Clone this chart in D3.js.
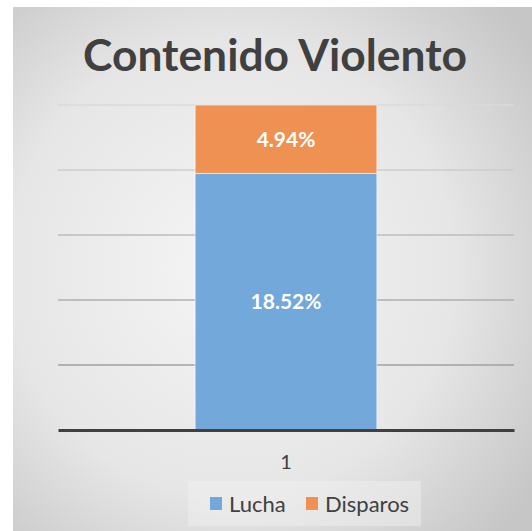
<!DOCTYPE html>
<html>
<head>
<meta charset="utf-8">
<script src="https://cdn.jsdelivr.net/npm/d3@7"></script>
<style>
  body { margin: 0; background: #fff; }
  text { font-family: Lato, "Open Sans", sans-serif; }
</style>
</head>
<body>
<div id="chart"></div>
<script>
// data
const categories = ["1"];
const seriesNames = ["Lucha", "Disparos"];
const lucha = [18.52];
const disparos = [4.94];
const gridTicks = [0, 0.2, 0.4, 0.6, 0.8, 1];

const W = 532, H = 531;
const margin = { top: 105, right: 18, bottom: 101, left: 58 };
const colors = { Lucha: "#72a8da", Disparos: "#ee9152" };

const svg = d3.select("#chart").append("svg")
    .attr("width", W)
    .attr("height", H);

// background panel with radial gradient
const defs = svg.append("defs");
const grad = defs.append("radialGradient")
    .attr("id", "bg")
    .attr("cx", "42%").attr("cy", "50%").attr("r", "72%");
grad.append("stop").attr("offset", "0%").attr("stop-color", "#f5f5f5");
grad.append("stop").attr("offset", "60%").attr("stop-color", "#e6e6e6");
grad.append("stop").attr("offset", "100%").attr("stop-color", "#c6c6c6");

svg.append("rect")
    .attr("x", 13).attr("y", 7)
    .attr("width", W - 13).attr("height", H - 7)
    .attr("fill", "url(#bg)");

// stacked data (100% stacked)
const rows = categories.map((c, i) => ({ cat: c, Lucha: lucha[i], Disparos: disparos[i] }));
const stack = d3.stack().keys(seriesNames).offset(d3.stackOffsetExpand);
const stacked = stack(rows);

const x = d3.scaleBand()
    .domain(categories)
    .range([margin.left, W - margin.right])
    .paddingInner(0.43)
    .paddingOuter(0.43);

const y = d3.scaleLinear()
    .domain([0, 1])
    .range([H - margin.bottom, margin.top]);

// gridlines
const gridColor = d3.scaleLinear().domain([1, 0.2]).range(["#dadada", "#a0a0a0"]);
svg.append("g")
    .selectAll("line")
    .data(gridTicks.filter(t => t > 0))
    .join("line")
    .attr("x1", margin.left)
    .attr("x2", W - margin.right)
    .attr("y1", d => y(d))
    .attr("y2", d => y(d))
    .attr("stroke", d => gridColor(d))
    .attr("stroke-width", 1.5);

// bars
const layers = svg.append("g")
    .selectAll("g")
    .data(stacked)
    .join("g")
    .attr("fill", d => colors[d.key]);

layers.selectAll("rect")
    .data(d => d)
    .join("rect")
    .attr("x", d => x(d.data.cat))
    .attr("width", x.bandwidth())
    .attr("y", d => y(d[1]))
    .attr("height", d => y(d[0]) - y(d[1]))
    .attr("stroke", "#ffffff")
    .attr("stroke-opacity", 0.6)
    .attr("stroke-width", 1);

// data labels
stacked.forEach(layer => {
    svg.append("g").selectAll("text")
        .data(layer)
        .join("text")
        .attr("x", d => x(d.data.cat) + x.bandwidth() / 2)
        .attr("y", d => (y(d[0]) + y(d[1])) / 2)
        .attr("dy", "0.35em")
        .attr("text-anchor", "middle")
        .attr("fill", "#ffffff")
        .style("font-size", "21px")
        .style("font-weight", "bold")
        .text(d => d.data[layer.key].toFixed(2) + "%");
});

// x axis
const xAxis = svg.append("g")
    .attr("transform", `translate(0,${H - margin.bottom})`)
    .call(d3.axisBottom(x).tickSize(0).tickPadding(25));
xAxis.select(".domain")
    .attr("stroke", "#404040")
    .attr("stroke-width", 3);
xAxis.selectAll(".tick text")
    .attr("fill", "#404040")
    .style("font-size", "20px")
    .style("font-family", "Lato, 'Open Sans', sans-serif");

// title
const title = svg.append("text")
    .attr("x", 275)
    .attr("y", 71)
    .attr("text-anchor", "middle")
    .attr("fill", "#404040")
    .style("font-size", "48px")
    .style("font-weight", "bold")
    .text("Contenido Violento");
const tw = title.node().getComputedTextLength();
title.style("font-size", (48 * 384 / tw) + "px");

// legend
const legend = svg.append("g");
legend.append("rect")
    .attr("x", 188).attr("y", 481)
    .attr("width", 233).attr("height", 45)
    .attr("fill", "#f2f2f2")
    .attr("fill-opacity", 0.45);

const legendX = [210, 306];
seriesNames.forEach((name, i) => {
    legend.append("rect")
        .attr("x", legendX[i]).attr("y", 497)
        .attr("width", 12).attr("height", 13)
        .attr("fill", colors[name]);
    legend.append("text")
        .attr("x", legendX[i] + 19)
        .attr("y", 504)
        .attr("dy", "0.35em")
        .attr("fill", "#404040")
        .style("font-size", "22px")
        .text(name);
});
</script>
</body>
</html>
